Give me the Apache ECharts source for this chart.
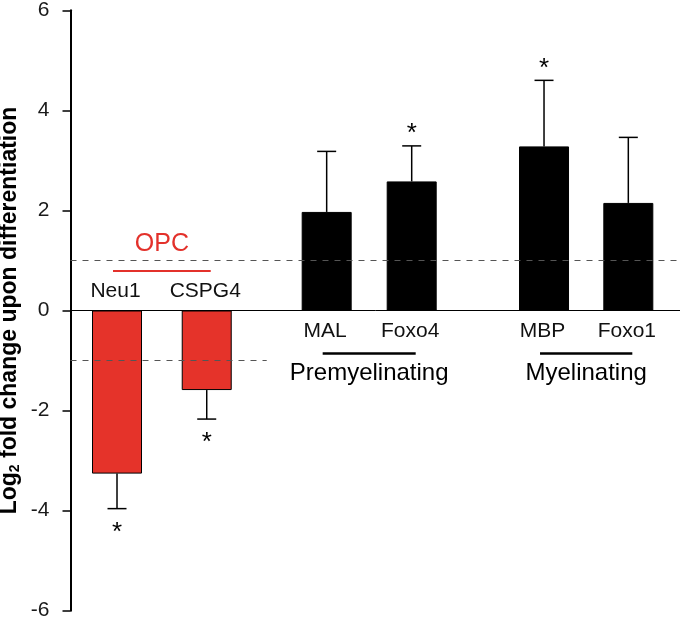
<!DOCTYPE html>
<html><head><meta charset="utf-8">
<script src="https://cdn.jsdelivr.net/npm/echarts@6/dist/echarts.min.js"></script>
<style>html,body{margin:0;padding:0;background:#fff}#c{width:680px;height:622px}</style>
</head><body><div id="c"></div>
<script>
// ---- data ----
const categories = ['Neu1', 'CSPG4', 'MAL', 'Foxo4', 'MBP', 'Foxo1'];
const xPositions = [7.63, 22.35, 42.03, 55.98, 77.69, 91.52];
const values = [-3.26, -1.59, 1.97, 2.58, 3.28, 2.15];
const errors = [0.70, 0.58, 1.21, 0.71, 1.32, 1.31];
const significant = [1, 1, 0, 1, 1, 0];
const groupNames = ['OPC', 'Premyelinating', 'Myelinating'];
const groupFirst = [0, 2, 4];
const groupLast = [1, 3, 5];
const yTickMin = -6, yTickMax = 6, yTickStep = 2;
const thresholdUp = 1, thresholdDown = -1;

// ---- style ----
const RED = '#e5332a';
const barColors = values.map((v) => v < 0 ? RED : '#000000');
const groupColors = ['#e3312b', '#000000', '#000000'];
const FONT = 'Liberation Sans';

const chart = echarts.init(document.getElementById('c'), null, {renderer: 'canvas'});
const xMin = 0, xMax = 100;
const downEnd = (xPositions[groupLast[0]] + xPositions[groupFirst[1]]) / 2;

const option = {
  animation: false,
  backgroundColor: '#ffffff',
  grid: {left: 70.5, right: 0, top: 10.3, bottom: 11.3, containLabel: false, outerBoundsMode: 'none'},
  xAxis: {
    type: 'value', min: xMin, max: xMax,
    axisLine: {show: false}, axisTick: {show: false}, axisLabel: {show: false}, splitLine: {show: false}
  },
  yAxis: {
    type: 'value', min: yTickMin, max: yTickMax, interval: yTickStep,
    axisLine: {show: true, lineStyle: {color: '#000', width: 2}},
    axisTick: {show: true, length: 8, lineStyle: {color: '#000', width: 1.5}},
    axisLabel: {fontSize: 21, color: '#1a1a1a', fontFamily: FONT, margin: 21},
    splitLine: {show: false},
    name: '{a|Log}{s|2}{a| fold change upon differentiation}',
    nameLocation: 'middle', nameRotate: 90, nameGap: 48, nameMoveOverlap: false,
    nameTextStyle: {
      rich: {
        a: {fontSize: 23, fontWeight: 'bold', fontFamily: FONT, color: '#000', lineHeight: 26},
        s: {fontSize: 14, fontWeight: 'bold', fontFamily: FONT, color: '#000', lineHeight: 14, verticalAlign: 'bottom'}
      }
    }
  },
  series: [
    {
      type: 'bar',
      barWidth: 50,
      data: xPositions.map((x, i) => ({value: [x, values[i]], itemStyle: {color: barColors[i]}})),
      itemStyle: {borderColor: '#000', borderWidth: 1},
      markLine: {
        silent: true, symbol: 'none', label: {show: false},
        data: [
          [{coord: [xMin, 0], lineStyle: {color: '#000', width: 1, type: 'solid'}}, {coord: [xMax, 0]}],
          [{coord: [xMin, thresholdUp], lineStyle: {color: '#555', width: 1, type: [6, 6]}}, {coord: [xMax, thresholdUp]}],
          [{coord: [xMin, thresholdDown], lineStyle: {color: '#555', width: 1, type: [6, 6]}}, {coord: [downEnd, thresholdDown]}]
        ]
      },
      z: 2
    },
    {
      type: 'custom',
      clip: false,
      z: 3,
      data: xPositions.map((x, i) => [x, values[i], errors[i], significant[i], i]),
      renderItem: function (params, api) {
        const x = api.value(0), m = api.value(1), e = api.value(2), sig = api.value(3), idx = api.value(4);
        const dir = m < 0 ? -1 : 1;
        const p0 = api.coord([x, m]);
        const p1 = api.coord([x, m + dir * e]);
        const pz = api.coord([x, 0]);
        const children = [
          {type: 'line', shape: {x1: p0[0], y1: p0[1], x2: p1[0], y2: p1[1]}, style: {stroke: '#000', lineWidth: 1.5}},
          {type: 'line', shape: {x1: p1[0] - 9.5, y1: p1[1], x2: p1[0] + 9.5, y2: p1[1]}, style: {stroke: '#000', lineWidth: 1.5}},
          {type: 'text', style: {text: categories[idx], x: pz[0] - 1.5, y: pz[1] + (dir < 0 ? -19.5 : 20.5),
            fontSize: 21, fontFamily: FONT, fill: '#111', align: 'center', verticalAlign: 'middle'}}
        ];
        if (sig) {
          children.push({type: 'text', style: {text: '*', x: p1[0], y: p1[1] + (dir < 0 ? 24 : -12),
            fontSize: 26, fontFamily: FONT, fill: '#000', align: 'center', verticalAlign: 'middle'}});
        }
        return {type: 'group', children: children};
      }
    },
    {
      type: 'custom',
      clip: false,
      z: 3,
      data: groupNames.map((n, g) => [xPositions[groupFirst[g]], xPositions[groupLast[g]], g]),
      renderItem: function (params, api) {
        const g = api.value(2);
        const a = api.coord([api.value(0), 0]);
        const b = api.coord([api.value(1), 0]);
        const above = values[groupFirst[g]] < 0;
        const ly = a[1] + (above ? -39.6 : 43);
        const ty = a[1] + (above ? -66 : 63);
        const col = groupColors[g];
        return {type: 'group', children: [
          {type: 'line', shape: {x1: a[0] - 4, y1: ly, x2: b[0] + 4, y2: ly}, style: {stroke: col, lineWidth: above ? 2 : 2.5}},
          {type: 'text', style: {text: groupNames[g], x: (a[0] + b[0]) / 2, y: ty, fontSize: above ? 25 : 24,
            fontFamily: FONT, fill: col, align: 'center', verticalAlign: 'middle'}}
        ]};
      }
    }
  ]
};
chart.setOption(option);
</script>
</body></html>
